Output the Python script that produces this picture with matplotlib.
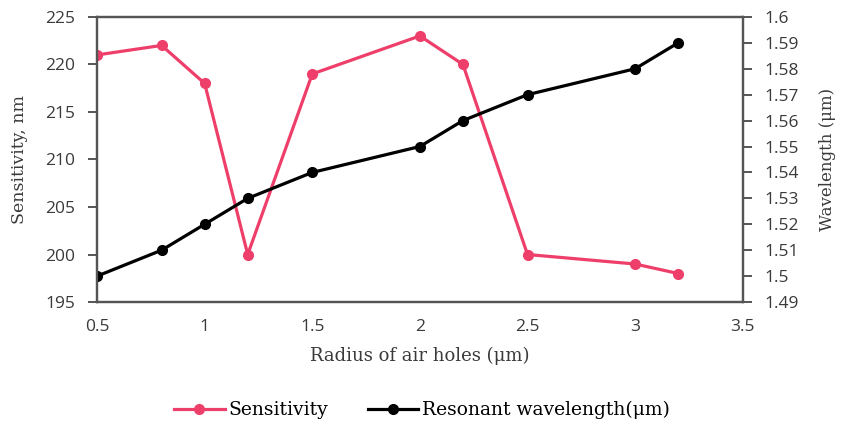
import matplotlib
matplotlib.use('Agg')
import matplotlib.pyplot as plt

# data
radius = [0.5, 0.8, 1.0, 1.2, 1.5, 2.0, 2.2, 2.5, 3.0, 3.2]
sensitivity = [221, 222, 218, 200, 219, 223, 220, 200, 199, 198]
wavelength = [1.50, 1.51, 1.52, 1.53, 1.54, 1.55, 1.56, 1.57, 1.58, 1.59]

x_ticks = [0.5, 1, 1.5, 2, 2.5, 3, 3.5]
x_tick_labels = ['0.5', '1', '1.5', '2', '2.5', '3', '3.5']
sens_ticks = [195, 200, 205, 210, 215, 220, 225]
wl_ticks = [1.49, 1.5, 1.51, 1.52, 1.53, 1.54, 1.55, 1.56, 1.57, 1.58, 1.59, 1.6]
wl_tick_labels = ['1.49', '1.5', '1.51', '1.52', '1.53', '1.54', '1.55', '1.56',
                  '1.57', '1.58', '1.59', '1.6']

pink = '#EE3F6B'
tick_font = 'Open Sans'
label_font = 'DejaVu Serif'
spine_col = '#555555'
txt_col = '#3a3a3a'

fig = plt.figure(figsize=(8.44, 4.23), dpi=100)
ax = fig.add_axes([0.115, 0.286, 0.765, 0.674])
ax2 = ax.twinx()

l1, = ax.plot(radius, sensitivity, color=pink, lw=2.3, marker='o', ms=7,
              label='Sensitivity')
l2, = ax2.plot(radius, wavelength, color='black', lw=2.3, marker='o', ms=7,
               label='Resonant wavelength(\u03bcm)')

ax.set_xlim(0.5, 3.5)
ax.set_ylim(195, 225)
ax2.set_ylim(1.49, 1.6)
ax.set_xticks(x_ticks)
ax.set_xticklabels(x_tick_labels)
ax.set_yticks(sens_ticks)
ax2.set_yticks(wl_ticks)
ax2.set_yticklabels(wl_tick_labels)

for a in (ax, ax2):
    for s in a.spines.values():
        s.set_color(spine_col)
        s.set_linewidth(1.6)
    for lab in a.get_xticklabels() + a.get_yticklabels():
        lab.set_family(tick_font)
        lab.set_fontsize(12.5)
        lab.set_weight('medium')
        lab.set_color(txt_col)

ax.tick_params(axis='x', length=0, pad=12)
ax.tick_params(axis='y', direction='out', length=6.5, width=1.4, color=spine_col, pad=9)
ax2.tick_params(axis='y', direction='out', length=6.5, width=1.4, color=spine_col, pad=9)

ax.set_xlabel('Radius of air holes (\u03bcm)', family=label_font, fontsize=13,
              color=txt_col)
ax.set_ylabel('Sensitivity, nm', family=label_font, fontsize=12.5, color=txt_col)
ax2.set_ylabel('Wavelength (\u03bcm)', family=label_font, fontsize=12, color=txt_col)
ax.xaxis.set_label_coords(0.5, -0.158)
ax.yaxis.set_label_coords(-0.107, 0.5)
ax2.yaxis.set_label_coords(1.118, 0.5)

fig.legend(handles=[l1, l2], loc='center', bbox_to_anchor=(0.5, 0.03), ncol=2,
           frameon=False, prop={'family': label_font, 'size': 13.5},
           handlelength=2.7, columnspacing=2.1, handletextpad=0.2)

fig.savefig('out.png', dpi=100)
